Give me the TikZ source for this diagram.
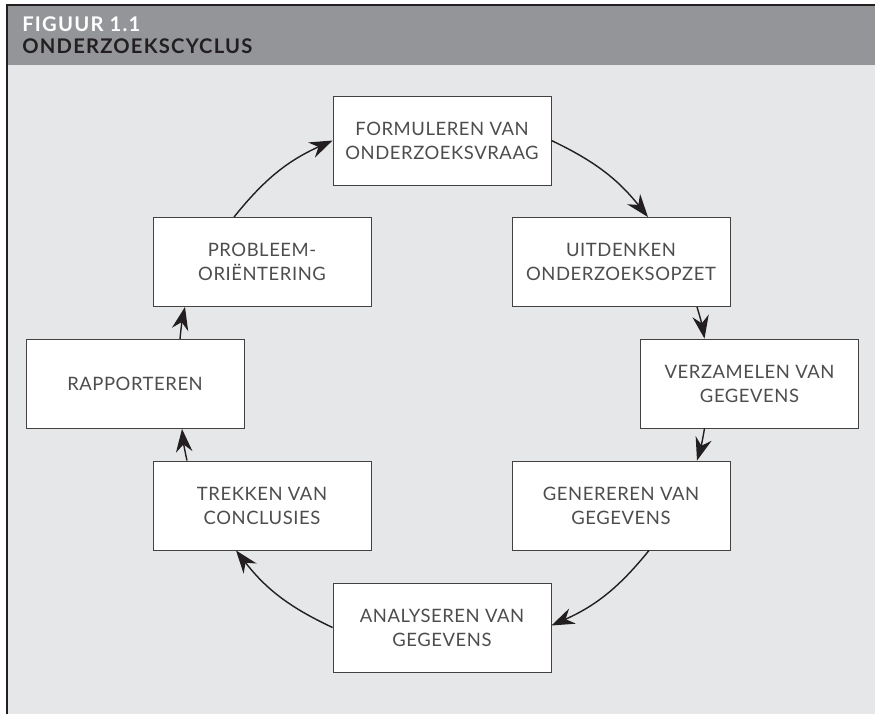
\documentclass[tikz,border=0pt]{standalone}
\usepackage{fontspec}
\setmainfont{Lato}[LetterSpace=3]
\usetikzlibrary{arrows.meta,calc}
\definecolor{kop}{HTML}{939598}
\definecolor{vlak}{HTML}{E6E7E8}
\definecolor{inkt}{HTML}{231F20}
\tikzset{stap/.style={draw=inkt!85,fill=white,line width=0.5pt,minimum width=4.36cm,minimum height=1.78cm,inner sep=0pt,align=center,text=inkt!80,font=\fontsize{10.5}{13.7}\selectfont},
  pijl/.style={-{Stealth[length=4.6mm,width=3.3mm]},line width=0.8pt,draw=inkt},
  kopje/.style={anchor=base west,inner sep=0pt,font=\addfontfeatures{LetterSpace=6}\bfseries\fontsize{11.5}{12}\selectfont}}

\begin{document}
\begin{tikzpicture}[x=0.02cm,y=0.02cm]
  % frame + header
  \useasboundingbox (0,0) rectangle (875,-714);
  \fill[vlak] (7,-65) rectangle (875,-714);
  \fill[kop] (7,-5) rectangle (875,-65);
  \draw[inkt,line width=0.8pt] (875,-5) -- (7,-5) -- (7,-714);
  \node (fig) [kopje,text=white] at (22,-31) {FIGUUR 1.1};
  \node (titel) [kopje,text=inkt] at (22,-53) {ONDERZOEKSCYCLUS};

  % the steps of the cycle
  \foreach \naam/\x/\y/\tekst in {form/442/140.5/FORMULEREN VAN\\ONDERZOEKSVRAAG,
      uit/621/262/UITDENKEN\\ONDERZOEKSOPZET, verz/749.5/383.5/VERZAMELEN VAN\\GEGEVENS,
      gen/621/505.5/GENEREREN VAN\\GEGEVENS, ana/442/627.5/ANALYSEREN VAN\\GEGEVENS,
      trek/262/505.5/TREKKEN VAN\\CONCLUSIES, rap/135/384/RAPPORTEREN,
      prob/262/262/PROBLEEM-\\ORIËNTERING}
    {\node (\naam) [stap] at (\x,-\y) {\tekst};}

  % arrows round the circle
  \draw[pijl] (form.east) to[bend left=13] ($(uit.north)+(27,0)$);
  \draw[pijl] ($(uit.south)+(76,0)$) to[bend left=3.5] ($(verz.north)+(-45,0)$);
  \draw[pijl] ($(verz.south)+(-45,0)$) to[bend left=3.5] ($(gen.north)+(76,0)$);
  \draw[pijl] ($(gen.south)+(28,0)$) to[bend left=13.5] ($(ana.east)+(0,2)$);
  \draw[pijl] (ana.west) to[bend left=13.5] ($(trek.south)+(-26,0)$);
  \draw[pijl] ($(trek.north)+(-75,0)$) to[bend left=3.5] ($(rap.south)+(47,0)$);
  \draw[pijl] ($(rap.north)+(45,0)$) to[bend left=3.5] ($(prob.south)+(-77,0)$);
  \draw[pijl] ($(prob.north)+(-28,0)$) to[bend left=13.5] (form.west);
\end{tikzpicture}
\end{document}
